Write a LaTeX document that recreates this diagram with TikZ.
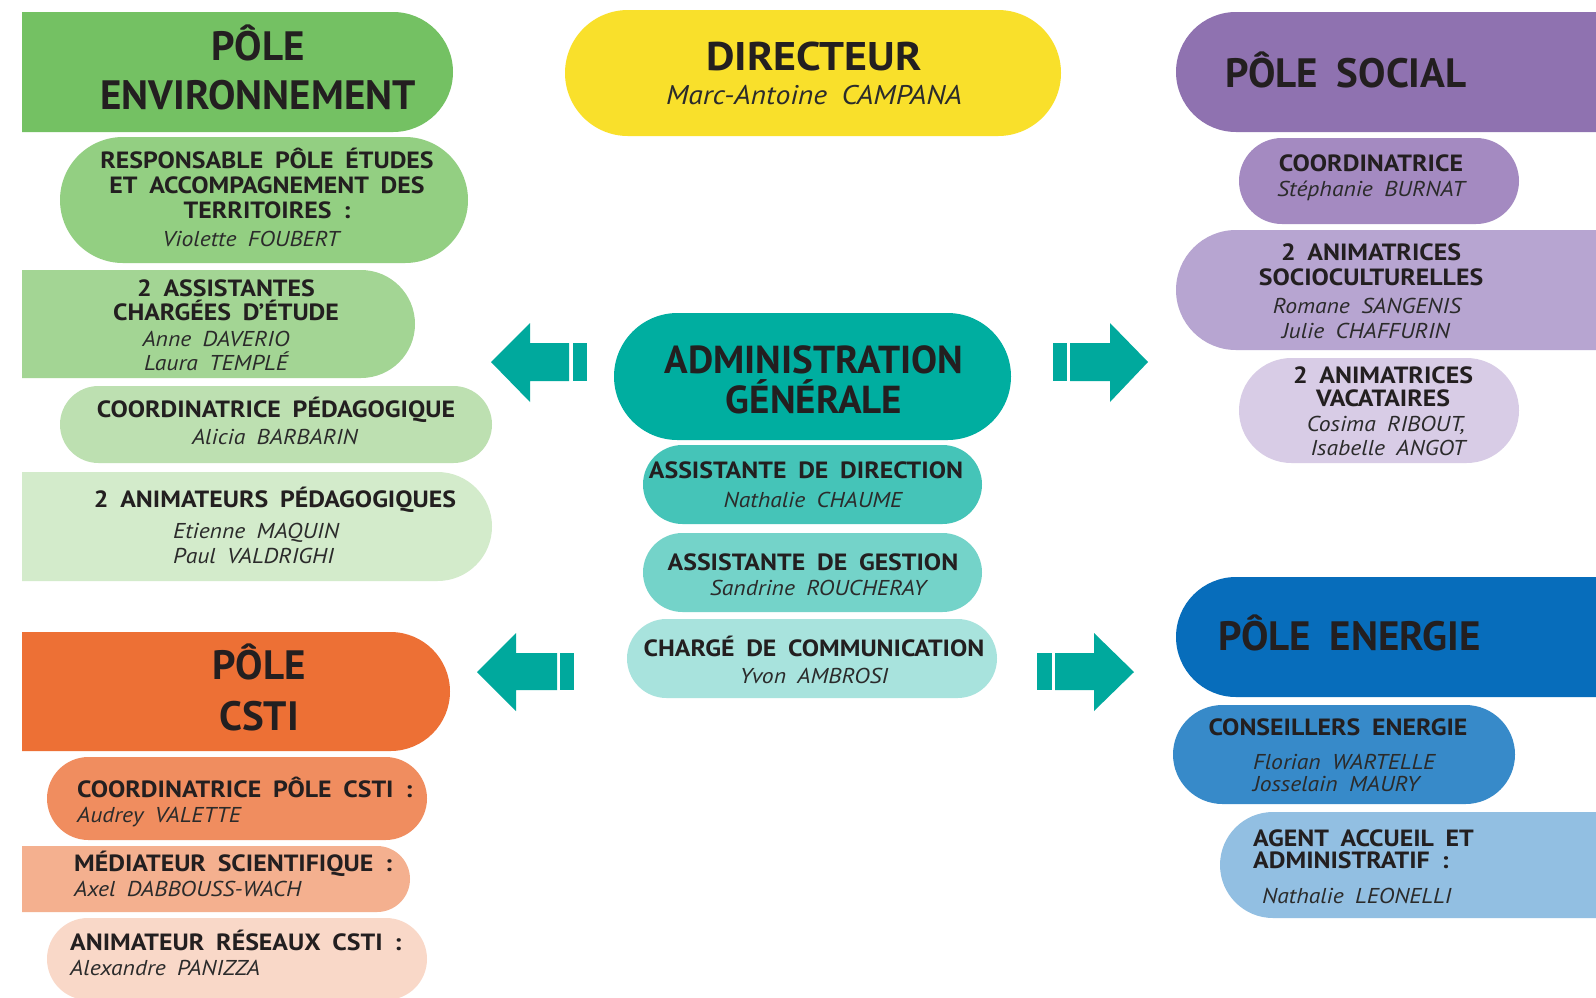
\documentclass[tikz,border=0pt]{standalone}
\usepackage{fontspec}
\setmainfont{PT Sans}[WordSpace=1.8]
\newfontfamily\widefam{PT Sans}[WordSpace=1.8, FakeStretch=1.1]
\usetikzlibrary{shapes.misc}
\definecolor{ink}{HTML}{231F20}
\definecolor{inkn}{HTML}{2B2B2B}
\definecolor{envA}{HTML}{74C163}
\definecolor{envB}{HTML}{93CF82}
\definecolor{envC}{HTML}{A3D594}
\definecolor{envD}{HTML}{BDE0B1}
\definecolor{envE}{HTML}{D3EBCB}
\definecolor{socA}{HTML}{8F72B0}
\definecolor{socB}{HTML}{A48AC1}
\definecolor{socC}{HTML}{B7A5D1}
\definecolor{socD}{HTML}{D8CCE6}
\definecolor{enA}{HTML}{076DBB}
\definecolor{enB}{HTML}{378AC9}
\definecolor{enC}{HTML}{92BFE2}
\definecolor{csA}{HTML}{ED7035}
\definecolor{csB}{HTML}{F08D5F}
\definecolor{csC}{HTML}{F4B08F}
\definecolor{csD}{HTML}{F9D8C8}
\definecolor{dirY}{HTML}{F9E02B}
\definecolor{adA}{HTML}{00AEA0}
\definecolor{adB}{HTML}{45C4B8}
\definecolor{adC}{HTML}{74D3C9}
\definecolor{adD}{HTML}{A8E3DD}
\definecolor{arrowteal}{HTML}{00A99D}
\tikzset{
  box/.style={rounded rectangle, inner sep=0pt, draw=none},
  lflat/.style={box, rounded rectangle left arc=none},
  rflat/.style={box, rounded rectangle right arc=none},
  big/.style={font=\fontsize{41}{44}\selectfont\bfseries, text=ink, inner sep=0pt},
  sb/.style={font=\widefam\fontsize{23.5}{25}\selectfont\bfseries, text=ink, inner sep=0pt},
  nm/.style={font=\widefam\fontsize{21.5}{24}\selectfont\itshape, text=inkn, inner sep=0pt},
  blockarrow/.style={fill=arrowteal, draw=none}
}
\begin{document}
\begin{tikzpicture}[x=1pt,y=-1pt]
\useasboundingbox (0,0) rectangle (1596,997);
\fill[white] (0,0) rectangle (1596,997);
\clip (0,0) rectangle (1596,997);

% ---------- boxes ----------
\node[lflat, fill=envA, minimum width=431pt, minimum height=120pt] (envHead) at (237.5,72) {};
\node[box, fill=envB, minimum width=408pt, minimum height=126pt] (envResp) at (264,200) {};
\node[lflat, fill=envC, minimum width=393pt, minimum height=108pt] (envAssist) at (218.5,324) {};
\node[box, fill=envD, minimum width=432pt, minimum height=77pt] (envCoord) at (276,424.5) {};
\node[lflat, fill=envE, minimum width=470pt, minimum height=109pt] (envAnim) at (257,526.5) {};

\node[box, fill=dirY, minimum width=496pt, minimum height=126pt] (dir) at (813,73) {};
\node[box, fill=adA, minimum width=397pt, minimum height=127pt] (admin) at (812.5,376.5) {};
\node[box, fill=adB, minimum width=339pt, minimum height=79pt] (adDir) at (812.5,484.5) {};
\node[box, fill=adC, minimum width=339pt, minimum height=79pt] (adGes) at (812.5,572.5) {};
\node[box, fill=adD, minimum width=370pt, minimum height=79pt] (adCom) at (812,658.5) {};

\node[rflat, fill=socA, minimum width=524pt, minimum height=120pt] (socHead) at (1438,72) {};
\node[box, fill=socB, minimum width=280pt, minimum height=86pt] (socCoord) at (1379,181) {};
\node[rflat, fill=socC, minimum width=524pt, minimum height=120pt] (socAnim) at (1438,290) {};
\node[box, fill=socD, minimum width=280pt, minimum height=105pt] (socVac) at (1379,410.5) {};

\node[rflat, fill=enA, minimum width=524pt, minimum height=120pt] (enHead) at (1438,637) {};
\node[box, fill=enB, minimum width=342pt, minimum height=99pt] (enCons) at (1344,754.5) {};
\node[rflat, fill=enC, minimum width=480pt, minimum height=106pt] (enAgent) at (1460,865) {};

\node[lflat, fill=csA, minimum width=428pt, minimum height=119pt] (csHead) at (236,691.5) {};
\node[box, fill=csB, minimum width=380pt, minimum height=83pt] (csCoord) at (237,798.5) {};
\node[lflat, fill=csC, minimum width=388pt, minimum height=66pt] (csMed) at (216,879) {};
\node[box, fill=csD, minimum width=380pt, minimum height=82pt] (csAnim) at (237,959) {};

% ---------- block arrows ----------
\fill[blockarrow] (491,362) -- (530,323) -- (530,343) -- (569,343) -- (569,381) -- (530,381) -- (530,402) -- cycle;
\fill[blockarrow] (573,343) rectangle (587,381);
\fill[blockarrow] (1148,362) -- (1110,323) -- (1110,343) -- (1070,343) -- (1070,381) -- (1110,381) -- (1110,402) -- cycle;
\fill[blockarrow] (1053,343) rectangle (1067,381);
\fill[blockarrow] (477,672) -- (516,633) -- (516,653) -- (557,653) -- (557,690) -- (516,690) -- (516,711) -- cycle;
\fill[blockarrow] (560,653) rectangle (574,690);
\fill[blockarrow] (1134,672) -- (1094,633) -- (1094,653) -- (1055,653) -- (1055,690) -- (1094,690) -- (1094,711) -- cycle;
\fill[blockarrow] (1037,653) rectangle (1052,690);

% ---------- texts: environnement ----------
\node[big, anchor=base] (tEnv1) at (258,60) {PÔLE};
\node[big, anchor=base] (tEnv2) at (258,109) {ENVIRONNEMENT};
\node[sb, anchor=base] (tResp1) at (267,168.5) {RESPONSABLE PÔLE ÉTUDES};
\node[sb, anchor=base] (tResp2) at (267,193) {ET ACCOMPAGNEMENT DES};
\node[sb, anchor=base] (tResp3) at (267,218) {TERRITOIRES :};
\node[nm, anchor=base] (tResp4) at (251,246) {Violette FOUBERT};
\node[sb, anchor=base] (tAss1) at (226,296) {2 ASSISTANTES};
\node[sb, anchor=base] (tAss2) at (226,320) {CHARGÉES D’ÉTUDE};
\node[nm, anchor=base] (tAss3) at (216,346) {Anne DAVERIO};
\node[nm, anchor=base] (tAss4) at (216,370) {Laura TEMPLÉ};
\node[sb, anchor=base] (tCoP1) at (276,417) {COORDINATRICE PÉDAGOGIQUE};
\node[nm, anchor=base] (tCoP2) at (275,444) {Alicia BARBARIN};
\node[sb, anchor=base] (tAnP1) at (275,507) {2 ANIMATEURS PÉDAGOGIQUES};
\node[nm, anchor=base west] (tAnP2) at (173,538) {Etienne MAQUIN};
\node[nm, anchor=base west] (tAnP3) at (173,563) {Paul VALDRIGHI};

% ---------- texts: direction / admin ----------
\node[font=\widefam\fontsize{40}{42}\selectfont\bfseries, text=ink, inner sep=0pt, anchor=base] (tDir1) at (814,70) {DIRECTEUR};
\node[font=\widefam\fontsize{27}{28}\selectfont\itshape, text=inkn, inner sep=0pt, anchor=base] (tDir2) at (814,104) {Marc-Antoine CAMPANA};
\node[font=\fontsize{39}{40}\selectfont\bfseries, text=ink, inner sep=0pt, anchor=base] (tAd1) at (814,373) {ADMINISTRATION};
\node[font=\fontsize{39}{40}\selectfont\bfseries, text=ink, inner sep=0pt, anchor=base] (tAd2) at (814,413) {GÉNÉRALE};
\node[sb, anchor=base] (tAdD1) at (806,478) {ASSISTANTE DE DIRECTION};
\node[nm, anchor=base] (tAdD2) at (813,507) {Nathalie CHAUME};
\node[sb, anchor=base] (tAdG1) at (813,570) {ASSISTANTE DE GESTION};
\node[nm, anchor=base] (tAdG2) at (818,595) {Sandrine ROUCHERAY};
\node[sb, anchor=base] (tAdC1) at (814,656) {CHARGÉ DE COMMUNICATION};
\node[nm, anchor=base] (tAdC2) at (814,683) {Yvon AMBROSI};

% ---------- texts: social ----------
\node[big, anchor=base west] (tSoc) at (1225,87) {PÔLE SOCIAL};
\node[sb, anchor=base] (tSoC1) at (1371,171) {COORDINATRICE};
\node[nm, anchor=base] (tSoC2) at (1371,196) {Stéphanie BURNAT};
\node[sb, anchor=base] (tSoA1) at (1371,260) {2 ANIMATRICES};
\node[sb, anchor=base] (tSoA2) at (1371,285) {SOCIOCULTURELLES};
\node[nm, anchor=base] (tSoA3) at (1367,313) {Romane SANGENIS};
\node[nm, anchor=base] (tSoA4) at (1366,338) {Julie CHAFFURIN};
\node[sb, anchor=base] (tSoV1) at (1383,383) {2 ANIMATRICES};
\node[sb, anchor=base] (tSoV2) at (1383,406) {VACATAIRES};
\node[nm, anchor=base] (tSoV3) at (1386,431) {Cosima RIBOUT,};
\node[nm, anchor=base] (tSoV4) at (1388,455) {Isabelle ANGOT};

% ---------- texts: energie ----------
\node[big, anchor=base west] (tEn) at (1218,650) {PÔLE ENERGIE};
\node[sb, anchor=base] (tEnC1) at (1338,735) {CONSEILLERS ENERGIE};
\node[nm, anchor=base west] (tEnC2) at (1253,769) {Florian WARTELLE};
\node[nm, anchor=base west] (tEnC3) at (1253,791) {Josselain MAURY};
\node[sb, anchor=base west] (tEnA1) at (1253,846) {AGENT ACCUEIL ET};
\node[sb, anchor=base west] (tEnA2) at (1253,868) {ADMINISTRATIF :};
\node[nm, anchor=base west] (tEnA3) at (1262,903) {Nathalie LEONELLI};

% ---------- texts: CSTI ----------
\node[big, anchor=base] (tCs1) at (259,679) {PÔLE};
\node[big, anchor=base] (tCs2) at (259,730) {CSTI};
\node[sb, anchor=base west] (tCsC1) at (77,797) {COORDINATRICE PÔLE CSTI :};
\node[nm, anchor=base west] (tCsC2) at (77,822) {Audrey VALETTE};
\node[sb, anchor=base west] (tCsM1) at (74,871) {MÉDIATEUR SCIENTIFIQUE :};
\node[nm, anchor=base west] (tCsM2) at (74,896) {Axel DABBOUSS-WACH};
\node[sb, anchor=base west] (tCsA1) at (70,950) {ANIMATEUR RÉSEAUX CSTI :};
\node[nm, anchor=base west] (tCsA2) at (70,975) {Alexandre PANIZZA};
\end{tikzpicture}
\end{document}
